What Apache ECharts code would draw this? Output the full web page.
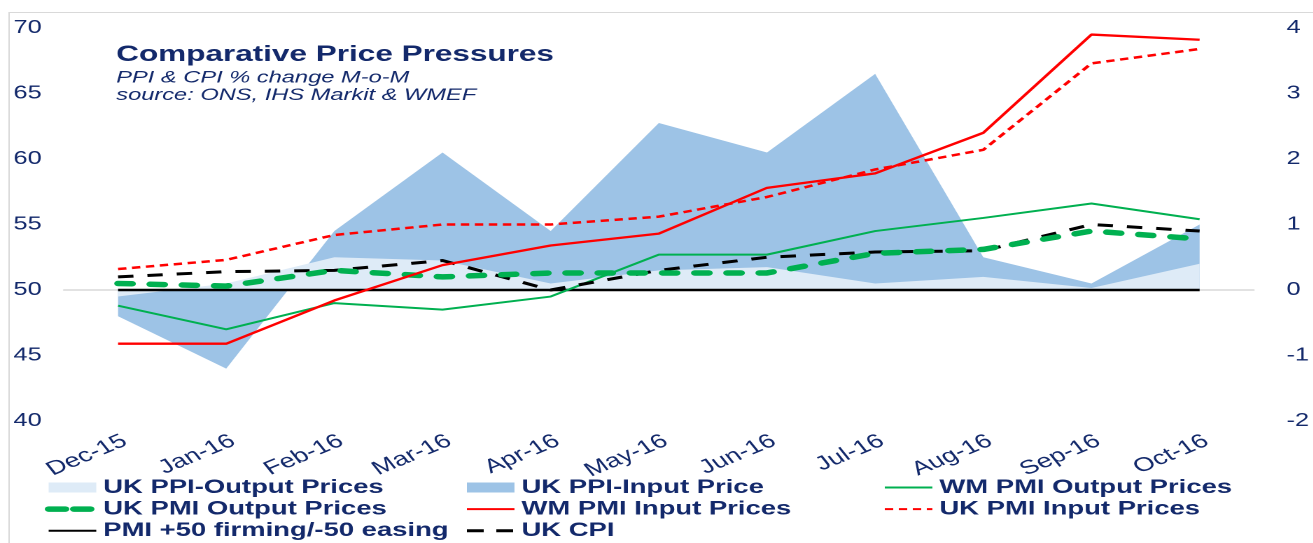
<!DOCTYPE html>
<html>
<head>
<meta charset="utf-8">
<script src="https://cdn.jsdelivr.net/npm/echarts@6/dist/echarts.min.js"></script>
<style>
  html, body { margin: 0; padding: 0; background: #fff; overflow: hidden; }
  #chart { width: 938px; height: 543px; transform: scaleX(1.4); transform-origin: 0 0; }
</style>
</head>
<body>
<div id="chart"></div>
<script>
// ---- data ----
const categories = ['Dec-15','Jan-16','Feb-16','Mar-16','Apr-16','May-16','Jun-16','Jul-16','Aug-16','Sep-16','Oct-16'];
// right axis (% change M-o-M)
const ukPpiOutput = [-0.1, 0.1, 0.5, 0.45, 0.1, 0.3, 0.35, 0.1, 0.2, 0.03, 0.4];
const ukPpiInput  = [-0.4, -1.2, 0.9, 2.1, 0.9, 2.55, 2.1, 3.3, 0.5, 0.1, 1.0];
const ukCpi       = [0.2, 0.28, 0.3, 0.45, 0.0, 0.3, 0.5, 0.58, 0.6, 1.0, 0.9];
// left axis (PMI index)
const wmPmiOutput = [48.8, 47.0, 49.0, 48.5, 49.5, 52.7, 52.7, 54.5, 55.5, 56.6, 55.4];
const wmPmiInput  = [45.9, 45.9, 49.2, 51.9, 53.4, 54.3, 57.8, 58.9, 62.0, 69.5, 69.1];
const ukPmiInput  = [51.6, 52.3, 54.2, 55.0, 55.0, 55.6, 57.1, 59.2, 60.7, 67.3, 68.4];
const ukPmiOutput = [50.5, 50.3, 51.5, 51.0, 51.3, 51.3, 51.3, 52.8, 53.1, 54.5, 53.9];
const firming50   = [50, 50, 50, 50, 50, 50, 50, 50, 50, 50, 50];
const leftTicks  = { min: 40, max: 70, interval: 5 };
const rightTicks = { min: -2, max: 4, interval: 1 };

const NAVY = '#13296b';
const FONT = '"Liberation Sans", Arial, sans-serif';

const chart = echarts.init(document.getElementById('chart'), null, { renderer: 'canvas', devicePixelRatio: 2 });

const legendText = { color: NAVY, fontFamily: FONT, fontWeight: 'bold', fontSize: 19.6, lineHeight: 20 };
function mkLegend(left, names) {
  return {
    orient: 'vertical', left: left, top: 477.5,
    itemWidth: 34, itemHeight: 10, itemGap: 1.6,
    itemStyle: { opacity: 0 },
    textStyle: legendText, selectedMode: false, padding: 0,
    data: names
  };
}
function rectItem(name, color) {
  return { name: name, icon: 'rect', itemStyle: { color: color, opacity: 1 } };
}

chart.setOption({
  animation: false,
  backgroundColor: '#fff',
  title: {
    text: 'Comparative Price Pressures',
    subtext: 'PPI & CPI % change M-o-M\nsource: ONS, IHS Markit & WMEF',
    left: 83, top: 43.5, itemGap: 2.5, padding: 0,
    textStyle: { color: NAVY, fontFamily: FONT, fontWeight: 'bold', fontSize: 22.5 },
    subtextStyle: { color: NAVY, fontFamily: FONT, fontStyle: 'italic', fontSize: 16.9, lineHeight: 17.5 }
  },
  graphic: [{
    type: 'rect', shape: { x: 6.5, y: 12.5, width: 1200, height: 800 },
    style: { fill: 'none', stroke: '#d9d9d9', lineWidth: 1 }, silent: true, z: -1
  }],
  legend: [
    mkLegend(32, [
      rectItem('UK PPI-Output Prices', '#deebf7'),
      { name: 'UK PMI Output Prices', lineStyle: { width: 5.5, type: [12, 6], cap: 'round' } },
      'PMI +50 firming/-50 easing'
    ]),
    mkLegend(332, [
      rectItem('UK PPI-Input Price', '#9dc3e6'),
      'WM PMI Input Prices',
      { name: 'UK CPI', lineStyle: { width: 3, type: [12, 9] } }
    ]),
    mkLegend(631, ['WM PMI Output Prices', 'UK PMI Input Prices'])
  ],
  grid: { left: 45.7, right: 29.4, top: 28, bottom: 122, containLabel: false },
  xAxis: {
    type: 'category', data: categories, boundaryGap: true,
    axisLine: { show: true, lineStyle: { color: '#d9d9d9', width: 1.5 } },
    axisTick: { show: false },
    axisLabel: { rotate: 30, margin: 10, verticalAlign: 'top', interval: 0, color: NAVY, fontFamily: FONT, fontSize: 19.5 }
  },
  yAxis: [
    {
      type: 'value', min: leftTicks.min, max: leftTicks.max, interval: leftTicks.interval,
      axisLine: { show: false }, axisTick: { show: false }, splitLine: { show: false },
      axisLabel: { margin: 16, color: NAVY, fontFamily: FONT, fontSize: 18 }
    },
    {
      type: 'value', min: rightTicks.min, max: rightTicks.max, interval: rightTicks.interval,
      axisLine: { show: false }, axisTick: { show: false }, splitLine: { show: false },
      axisLabel: { margin: 23.5, color: NAVY, fontFamily: FONT, fontSize: 18 }
    }
  ],
  series: [
    {
      name: 'UK PPI-Input Price', type: 'line', yAxisIndex: 1, data: ukPpiInput,
      symbol: 'none', lineStyle: { width: 0 }, itemStyle: { color: '#9dc3e6' },
      areaStyle: { color: '#9dc3e6', opacity: 1 }, z: 1
    },
    {
      name: 'UK PPI-Output Prices', type: 'line', yAxisIndex: 1, data: ukPpiOutput,
      symbol: 'none', lineStyle: { width: 0 }, itemStyle: { color: '#deebf7' },
      areaStyle: { color: '#deebf7', opacity: 1 }, z: 1
    },
    {
      name: 'PMI +50 firming/-50 easing', type: 'line', yAxisIndex: 0, data: firming50,
      symbol: 'none', itemStyle: { color: '#000' }, lineStyle: { color: '#000', width: 2.5 }, z: 2
    },
    {
      name: 'WM PMI Output Prices', type: 'line', yAxisIndex: 0, data: wmPmiOutput,
      symbol: 'none', itemStyle: { color: '#00b050' }, lineStyle: { color: '#00b050', width: 2 }, z: 3
    },
    {
      name: 'UK CPI', type: 'line', yAxisIndex: 1, data: ukCpi,
      symbol: 'none', itemStyle: { color: '#000' },
      lineStyle: { color: '#000', width: 3, type: [11, 10] }, z: 3
    },
    {
      name: 'UK PMI Output Prices', type: 'line', yAxisIndex: 0, data: ukPmiOutput,
      symbol: 'none', itemStyle: { color: '#00b050' },
      lineStyle: { color: '#00b050', width: 5.5, type: [10, 13], cap: 'round' }, z: 4
    },
    {
      name: 'UK PMI Input Prices', type: 'line', yAxisIndex: 0, data: ukPmiInput,
      symbol: 'none', itemStyle: { color: '#ff0000' },
      lineStyle: { color: '#ff0000', width: 2.5, type: [6, 4] }, z: 4
    },
    {
      name: 'WM PMI Input Prices', type: 'line', yAxisIndex: 0, data: wmPmiInput,
      symbol: 'none', itemStyle: { color: '#ff0000' }, lineStyle: { color: '#ff0000', width: 2.3 }, z: 5
    }
  ]
});
</script>
</body>
</html>
